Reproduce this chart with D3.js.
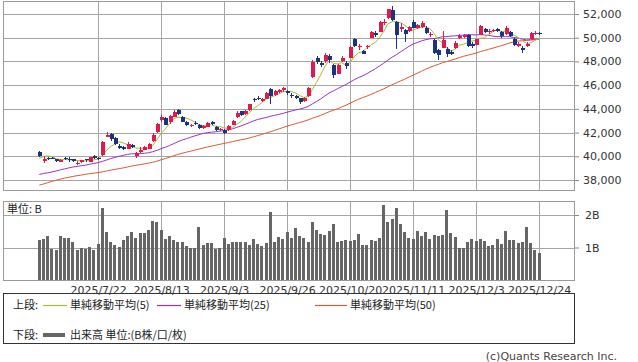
<!DOCTYPE html>
<html><head><meta charset="utf-8">
<script src="https://cdn.jsdelivr.net/npm/d3@7"></script>
<style>body{margin:0;background:#fff}svg{display:block}</style>
</head><body><svg id="c" width="638" height="362"></svg>
<script>
const dates=["2025/7/1","2025/7/2","2025/7/3","2025/7/4","2025/7/7","2025/7/8","2025/7/9","2025/7/10","2025/7/11","2025/7/14","2025/7/15","2025/7/16","2025/7/17","2025/7/18","2025/7/22","2025/7/23","2025/7/24","2025/7/25","2025/7/28","2025/7/29","2025/7/30","2025/7/31",
"2025/8/1","2025/8/4","2025/8/5","2025/8/6","2025/8/7","2025/8/8","2025/8/12","2025/8/13","2025/8/14","2025/8/15","2025/8/18","2025/8/19","2025/8/20","2025/8/21","2025/8/22","2025/8/25","2025/8/26","2025/8/27","2025/8/28","2025/8/29",
"2025/9/1","2025/9/2","2025/9/3","2025/9/4","2025/9/5","2025/9/8","2025/9/9","2025/9/10","2025/9/11","2025/9/12","2025/9/16","2025/9/17","2025/9/18","2025/9/19","2025/9/22","2025/9/24","2025/9/25","2025/9/26","2025/9/29","2025/9/30",
"2025/10/1","2025/10/2","2025/10/3","2025/10/6","2025/10/7","2025/10/8","2025/10/9","2025/10/10","2025/10/14","2025/10/15","2025/10/16","2025/10/17","2025/10/20","2025/10/21","2025/10/22","2025/10/23","2025/10/24","2025/10/27","2025/10/28","2025/10/29","2025/10/30","2025/10/31",
"2025/11/4","2025/11/5","2025/11/6","2025/11/7","2025/11/10","2025/11/11","2025/11/12","2025/11/13","2025/11/14","2025/11/17","2025/11/18","2025/11/19","2025/11/20","2025/11/21","2025/11/25","2025/11/26","2025/11/27","2025/11/28",
"2025/12/1","2025/12/2","2025/12/3","2025/12/4","2025/12/5","2025/12/8","2025/12/9","2025/12/10","2025/12/11","2025/12/12","2025/12/15","2025/12/16","2025/12/17","2025/12/18","2025/12/19","2025/12/22","2025/12/23","2025/12/24"];

const open=[40400,39620,39830,39850,39760,39560,39850,39800,39750,39380,39500,39750,39550,40050,39850,40100,41650,41850,41550,40900,40800,40650,
40950,40000,40400,40550,40650,41250,42050,43050,43200,42850,43350,43900,43350,42900,42550,42830,42600,42400,42500,42850,
42500,42200,42250,42200,42650,43300,43800,43550,43900,44850,44950,44700,44850,45700,45200,45400,45600,45500,45200,45050,
44900,44700,45050,46700,48250,47900,48000,48500,47700,46950,48000,47900,48300,49850,49200,48900,49200,50000,50400,50500,51200,51650,
52300,51300,50700,50650,50600,51350,50800,50900,50850,50200,49800,48950,49150,49050,48800,49100,49950,50050,
50200,49450,49400,50250,50700,50450,50550,50750,50500,50300,50500,49900,49300,49150,49300,49900,50350,50400];
const high=[40450,40000,39900,39950,39800,39750,39950,39900,39800,39600,39720,39800,39950,40150,39950,41250,42065,42000,41600,41000,40850,41200,
41050,40400,40750,40900,41150,41950,42800,43450,43300,43450,43876,43950,43400,42950,42750,42950,42700,42600,42900,42950,
42550,42400,42300,42650,43100,43800,43850,43900,44450,44950,45050,44900,45400,45800,45600,45700,45850,45600,45300,45150,
44950,45000,45850,48150,48500,48050,48700,48600,47750,47800,48450,48000,49300,49950,49450,49000,49400,50600,50550,51400,51600,52450,
52636,51400,51200,50700,51000,51500,51150,51400,50950,50450,49900,49050,50550,49250,49000,49700,50350,50300,
50350,49600,49900,51100,50800,50700,50750,50850,50600,50950,50550,49950,49600,49300,49650,50500,50550,50500];
const low=[39950,39420,39700,39750,39550,39500,39700,39550,39500,39300,39450,39550,39500,39750,39650,40000,41600,41300,40950,40600,40550,40600,
40700,39850,40300,40500,40600,41200,42000,42900,42600,42750,43300,43450,42850,42550,42450,42650,42300,42300,42450,42650,
42100,42100,41850,42150,42600,43250,43400,43500,43850,44550,44750,44550,44800,44450,45100,45300,45450,45200,44900,44800,
44450,44600,45000,46600,47800,47550,47900,47900,46600,46900,47950,47400,48250,49200,49000,48600,49050,49950,50100,50450,51050,51600,
51450,49074,50500,49600,50500,50800,50700,50850,50300,50100,48650,48150,49100,48350,48550,49050,49900,49950,
49250,49100,49350,50200,50400,50350,50450,50500,49950,50250,50050,49300,49200,48750,49200,49850,50250,50250];
const close=[39986,39762,39785,39810,39587,39688,39821,39646,39569,39459,39678,39663,39901,39819,39774,41171,41826,41456,40998,40675,40654,41069,
40799,40290,40549,40794,41059,41820,42718,43274,42649,43378,43714,43546,42888,42610,42633,42807,42394,42520,42829,42718,
42188,42310,41938,42580,43018,43643,43459,43837,44372,44768,44902,44790,45303,45045,45493,45630,45754,45354,45043,44932,
44550,44936,45769,47944,47950,47734,48580,48088,46847,47672,48277,47582,49185,49316,49307,48641,49299,50512,50219,51307,51325,52411,
51497,50212,50883,50276,50911,50842,51063,51281,50376,50323,48702,48537,49823,48625,48659,49559,50167,50253,
49303,49303,49864,51028,50491,50581,50655,50602,50148,50836,50168,49383,49512,49001,49507,50402,50412,50344];
const volume=[1.23,1.26,1.36,0.95,0.92,1.36,1.29,1.29,1.17,0.92,0.98,0.95,1.01,0.92,1.11,
2.21,1.48,1.17,1.07,1.01,1.23,1.36,1.48,1.29,1.45,1.45,1.55,1.83,1.77,1.55,1.26,1.36,1.23,1.17,1.17,1.04,0.98,0.98,1.64,1.07,1.14,1.14,0.95,0.98,1.29,
1.11,1.17,1.17,1.17,1.17,1.07,1.26,1.11,1.04,1.14,2.08,1.17,1.33,1.26,1.48,
1.29,1.61,1.36,1.29,1.17,1.80,1.55,1.42,1.39,1.52,1.71,1.17,1.20,1.23,1.20,1.23,1.42,1.08,1.08,1.23,1.20,1.29,2.31,1.80,1.89,2.21,1.71,1.48,1.29,1.26,
1.52,1.36,1.48,1.26,1.39,1.36,1.39,2.15,1.45,1.33,0.98,0.98,1.17,1.26,1.20,1.26,1.20,1.04,1.08,1.26,1.11,1.52,1.23,1.23,1.14,1.17,1.64,1.14,0.92,0.82];
const ma5=[39830,39994,40034,39966,39786,39726,39738,39710,39662,39637,39635,39603,39654,39704,39767,40066,40498,40809,41045,41225,41122,40970,
40839,40697,40672,40700,40698,40902,41388,41933,42304,42768,43147,43312,43235,43227,43078,42897,42666,42593,42637,42654,
42530,42513,42397,42347,42407,42698,42928,43307,43666,44016,44268,44534,44827,44962,45107,45252,45445,45455,45455,45343,
45127,44963,45046,45626,46230,46867,47595,48059,47840,47784,47893,47693,47913,48406,48733,48806,49150,49415,49596,49996,50532,51155,
51352,51350,51266,51056,50756,50625,50795,50875,50895,50777,50349,49844,49552,49202,48869,49041,49367,49453,
49588,49717,49778,49950,49998,50253,50524,50671,50495,50564,50482,50227,50009,49780,49514,49561,49767,49933];
const ma25=[38469,38550,38605,38678,38763,38853,38936,39019,39092,39147,39206,39256,39325,39404,39463,39568,39686,39804,39908,40001,40076,40161,
40209,40215,40217,40250,40302,40383,40499,40647,40765,40908,41070,41229,41366,41484,41603,41719,41822,41932,41998,42034,
42063,42115,42166,42243,42321,42435,42561,42693,42836,42984,43108,43191,43272,43368,43452,43529,43617,43716,43813,43905,
43975,44076,44206,44411,44620,44842,45093,45339,45510,45696,45881,46046,46260,46458,46639,46789,46969,47178,47385,47617,47845,48111,
48357,48564,48802,49031,49270,49473,49597,49731,49836,49906,49931,49998,50084,50098,50141,50156,50190,50228,
50255,50255,50229,50261,50229,50199,50129,50093,50090,50088,50084,50023,49970,49887,49816,49817,49821,49887];
const ma50=[37563,37663,37773,37885,37980,38073,38155,38231,38301,38362,38419,38476,38536,38582,38625,38684,38758,38832,38897,38961,39023,39099,
39175,39238,39298,39359,39426,39494,39589,39705,39809,39922,40045,40161,40257,40345,40429,40522,40613,40697,40783,40860,
40934,41012,41084,41159,41241,41322,41388,41455,41543,41643,41745,41845,41959,42066,42180,42300,42423,42541,42648,42754,
42847,42949,43069,43205,43327,43453,43604,43752,43876,44008,44158,44304,44476,44647,44812,44948,45080,45225,45376,45535,45687,45864,
46036,46188,46353,46503,46673,46840,47004,47176,47339,47500,47635,47754,47890,47990,48094,48208,48324,48434,
48522,48612,48703,48823,48923,49022,49120,49225,49327,49445,49557,49646,49721,49742,49773,49827,49863,49909];

const priceTicks=[38000,40000,42000,44000,46000,48000,50000,52000];
const volumeTicks=[1,2];
const dateTicks=["2025/7/22","2025/8/13","2025/9/3","2025/9/26","2025/10/20","2025/11/11","2025/12/3","2025/12/24"];
const maSeries=[
  {label:"単純移動平均(5)",values:ma5,color:"#a9bc2c"},
  {label:"単純移動平均(25)",values:ma25,color:"#9b30c8"},
  {label:"単純移動平均(50)",values:ma50,color:"#dd5a2e"}];
const upColor="#e3194e", downColor="#1a3480", volColor="#666666", gridColor="#a6a6a6";
const font="'DejaVu Sans', Verdana, sans-serif";
const jfont="'Noto Sans CJK JP','DejaVu Sans',sans-serif";

const svg=d3.select("#c");
const L=3,R=574,T=1,B=190,VT=201,VB=280;
const x=d3.scalePoint().domain(dates).range([39.3,539.1]);
const y=d3.scaleLinear().domain([38000,52000]).range([180,14]);
const yv=d3.scaleLinear().domain([0,2]).range([280,215]);
const px=v=>Math.round(v)+0.5;

// grids
const g=svg.append("g").attr("stroke",gridColor).attr("stroke-width",1).attr("shape-rendering","crispEdges");
priceTicks.forEach(t=>g.append("line").attr("x1",L).attr("x2",R).attr("y1",px(y(t))).attr("y2",px(y(t))));
volumeTicks.forEach(t=>g.append("line").attr("x1",L).attr("x2",R).attr("y1",px(yv(t))).attr("y2",px(yv(t))));
dateTicks.forEach(d=>{
  g.append("line").attr("x1",px(x(d))).attr("x2",px(x(d))).attr("y1",T).attr("y2",B);
  g.append("line").attr("x1",px(x(d))).attr("x2",px(x(d))).attr("y1",VT).attr("y2",VB);
});
[[T,B],[VT,VB]].forEach(([a,b])=>svg.append("rect").attr("x",L+0.5).attr("y",a+0.5).attr("width",R-L).attr("height",b-a)
  .attr("fill","none").attr("stroke","#999").attr("shape-rendering","crispEdges"));

// volume bars
svg.append("g").selectAll("rect").data(dates).join("rect")
  .attr("x",d=>Math.round(x(d)-1.5)).attr("width",3)
  .attr("y",(d,i)=>yv(volume[i])).attr("height",(d,i)=>yv(0)-yv(volume[i]))
  .attr("fill",volColor).attr("shape-rendering","crispEdges");

// moving averages
maSeries.slice().reverse().forEach(s=>{
  svg.append("path").datum(s.values)
    .attr("d",d3.line().x((v,i)=>x(dates[i])).y(v=>y(v)))
    .attr("fill","none").attr("stroke",s.color).attr("stroke-width",1);
});

// candles
const cg=svg.append("g").attr("shape-rendering","crispEdges");
dates.forEach((d,i)=>{
  const col=close[i]>=open[i]?upColor:downColor;
  const cx=Math.round(x(d))+0.5;
  cg.append("line").attr("x1",cx).attr("x2",cx).attr("y1",y(high[i])).attr("y2",y(low[i])).attr("stroke",col);
  const top=y(Math.max(open[i],close[i])), bot=y(Math.min(open[i],close[i]));
  cg.append("rect").attr("x",cx-2).attr("width",4).attr("y",top).attr("height",Math.max(1,bot-top)).attr("fill",col);
});

// axes
const ay=svg.append("g").attr("transform",`translate(${R+1},0)`)
  .call(d3.axisRight(y).tickValues(priceTicks).tickFormat(d3.format(",")).tickSize(4).tickPadding(4));
const av=svg.append("g").attr("transform",`translate(${R+1},0)`)
  .call(d3.axisRight(yv).tickValues(volumeTicks).tickFormat(v=>v+"B").tickSize(4).tickPadding(6));
const ax=svg.append("g").attr("transform",`translate(0,${VB})`)
  .call(d3.axisBottom(x).tickValues(dateTicks).tickSize(0).tickPadding(6));
[ay,av,ax].forEach(a=>{
  a.select(".domain").remove();
  a.selectAll("line").attr("stroke","#888");
  a.selectAll("text").attr("font-family",font).attr("font-size",11).attr("fill","#333");
});

svg.append("text").attr("x",7).attr("y",213).attr("font-family",jfont).attr("font-size",11).attr("fill","#222").text("単位: B");

// legend
svg.append("rect").attr("x",3.5).attr("y",293.5).attr("width",571).attr("height",50)
  .attr("fill","none").attr("stroke","#333").attr("shape-rendering","crispEdges");
const lg=svg.append("g").attr("font-family",jfont).attr("font-size",11).attr("fill","#222");
lg.append("text").attr("x",13).attr("y",309).text("上段:");
const legX=[[43,67,70],[157,181,184],[315,347,350]];
maSeries.forEach((s,k)=>{
  const [a,b,t]=legX[k];
  lg.append("line").attr("x1",a).attr("x2",b).attr("y1",305.5).attr("y2",305.5).attr("stroke",s.color).attr("stroke-width",1.2);
  lg.append("text").attr("x",t).attr("y",309).text(s.label);
});
lg.append("text").attr("x",13).attr("y",339).text("下段:");
lg.append("line").attr("x1",43).attr("x2",65).attr("y1",335).attr("y2",335).attr("stroke",volColor).attr("stroke-width",4);
lg.append("text").attr("x",70).attr("y",339).text("出来高 単位:(B株/口/枚)");

svg.append("text").attr("x",617).attr("y",360).attr("text-anchor","end").attr("font-family",font)
  .attr("font-size",11).attr("fill","#444").text("(c)Quants Research Inc.");
</script></body></html>
